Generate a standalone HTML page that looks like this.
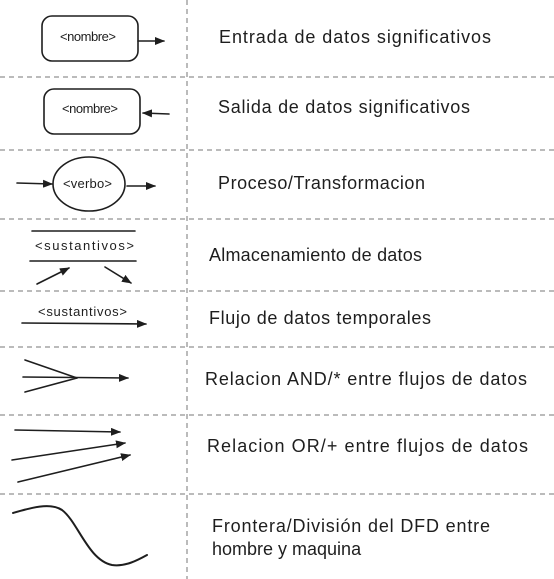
<!DOCTYPE html>
<html><head><meta charset="utf-8"><style>
html,body{margin:0;padding:0;background:#fff;}
svg{display:block;}
text{font-family:"Liberation Sans",sans-serif;fill:#1e1e1e;}
.t{font-size:18px;}
.s{font-size:13px;}
</style></head><body>
<svg width="554" height="579" viewBox="0 0 554 579" xmlns="http://www.w3.org/2000/svg">
<defs>
<marker id="a" markerWidth="10" markerHeight="8" refX="9" refY="4" orient="auto" markerUnits="userSpaceOnUse">
<path d="M0,0 L10,4 L0,8 Z" fill="#1e1e1e"/>
</marker>
</defs>
<g stroke="#777" stroke-width="1" stroke-dasharray="5,4" fill="none">
<line x1="187" y1="0" x2="187" y2="579"/>
<line x1="0" y1="77" x2="554" y2="77"/>
<line x1="0" y1="150" x2="554" y2="150"/>
<line x1="0" y1="219" x2="554" y2="219"/>
<line x1="0" y1="291" x2="554" y2="291"/>
<line x1="0" y1="347" x2="554" y2="347"/>
<line x1="0" y1="415" x2="554" y2="415"/>
<line x1="0" y1="494" x2="554" y2="494"/>
</g>
<g stroke="#1e1e1e" stroke-width="1.6" fill="none" stroke-linecap="round">
<rect x="42" y="16" width="96" height="45" rx="10"/>
<line x1="138" y1="41" x2="164" y2="41" marker-end="url(#a)"/>
<rect x="44" y="89" width="96" height="45" rx="10"/>
<line x1="169" y1="114" x2="143" y2="113" marker-end="url(#a)"/>
<ellipse cx="89" cy="184" rx="36" ry="27"/>
<line x1="17" y1="183" x2="52" y2="184" marker-end="url(#a)"/>
<line x1="127" y1="186" x2="155" y2="186" marker-end="url(#a)"/>
<line x1="32" y1="231" x2="135" y2="231"/>
<line x1="30" y1="261" x2="136" y2="261"/>
<line x1="37" y1="284" x2="69" y2="268" marker-end="url(#a)"/>
<line x1="105" y1="267" x2="131" y2="283" marker-end="url(#a)"/>
<line x1="22" y1="323" x2="146" y2="324" marker-end="url(#a)"/>
<line x1="25" y1="360" x2="77" y2="378"/>
<line x1="25" y1="392" x2="77" y2="378"/>
<line x1="23" y1="377" x2="128" y2="378" marker-end="url(#a)"/>
<line x1="15" y1="430" x2="120" y2="432" marker-end="url(#a)"/>
<line x1="12" y1="460" x2="125" y2="443" marker-end="url(#a)"/>
<line x1="18" y1="482" x2="130" y2="455" marker-end="url(#a)"/>
<path d="M13,513 C30,508 50,502 62,510 C78,522 88,560 112,565 C125,567 138,560 147,555" stroke-width="2"/>
</g>
<text class="s" x="60" y="41" textLength="56">&lt;nombre&gt;</text>
<text class="s" x="62" y="113" textLength="56">&lt;nombre&gt;</text>
<text class="s" x="63" y="188" textLength="49">&lt;verbo&gt;</text>
<text class="s" x="35" y="250" textLength="99">&lt;sustantivos&gt;</text>
<text class="s" x="38" y="316" textLength="89">&lt;sustantivos&gt;</text>
<text class="t" x="219" y="43" textLength="272">Entrada de datos significativos</text>
<text class="t" x="218" y="113" textLength="252">Salida de datos significativos</text>
<text class="t" x="218" y="189" textLength="207">Proceso/Transformacion</text>
<text class="t" x="209" y="261" textLength="213">Almacenamiento de datos</text>
<text class="t" x="209" y="324" textLength="222">Flujo de datos temporales</text>
<text class="t" x="205" y="385" textLength="322">Relacion AND/* entre flujos de datos</text>
<text class="t" x="207" y="452" textLength="321">Relacion OR/+ entre  flujos de datos</text>
<text class="t" x="212" y="532" textLength="278">Frontera/División del DFD entre</text>
<text class="t" x="212" y="555">hombre y maquina</text>
</svg>
</body></html>
